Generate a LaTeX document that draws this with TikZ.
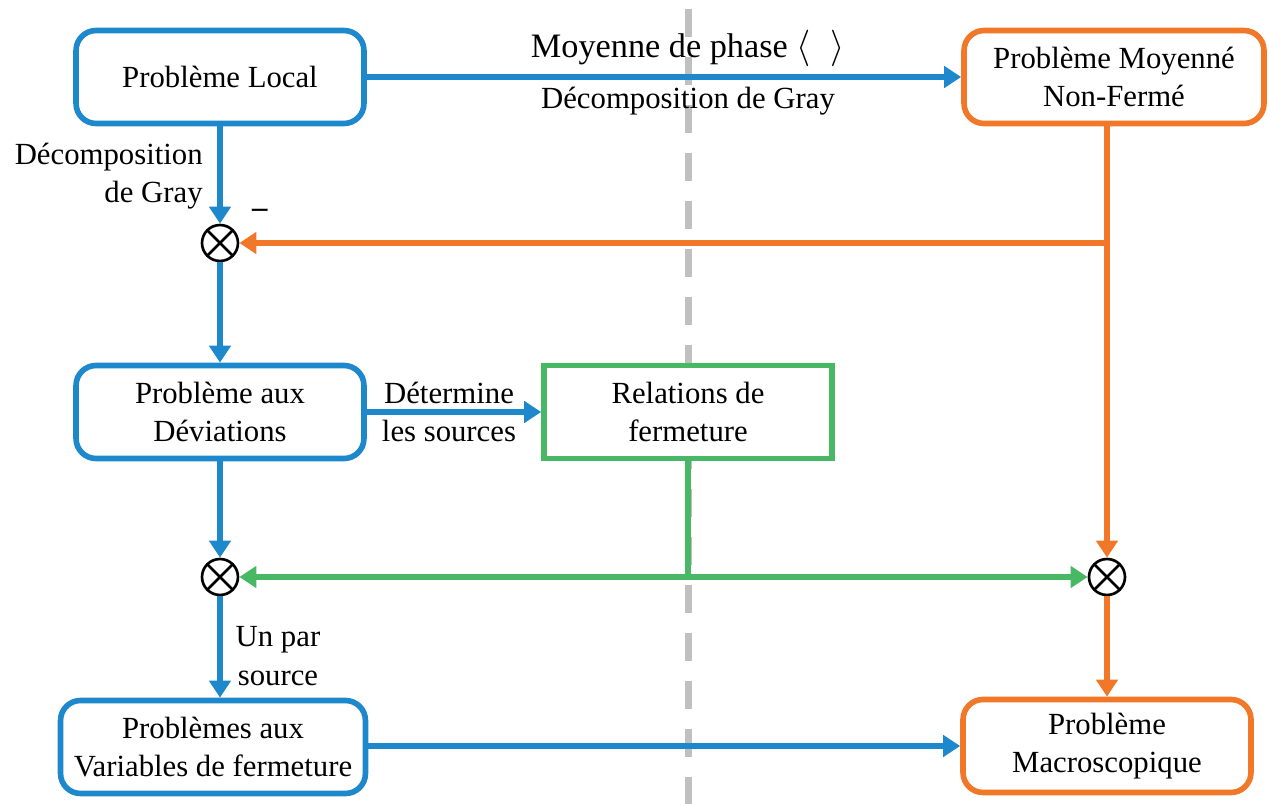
\documentclass[tikz,border=0pt]{standalone}
\usepackage{fontspec}
\setmainfont{Liberation Serif}
\usetikzlibrary{arrows.meta}
\definecolor{flowblue}{RGB}{30,136,204}
\definecolor{floworange}{RGB}{240,120,40}
\definecolor{flowgreen}{RGB}{72,184,100}
\definecolor{flowgray}{RGB}{192,192,192}
\tikzset{every node/.style={font=\fontsize{17.5pt}{22pt}\selectfont, align=center},
  bluebox/.style={draw=flowblue, line width=3.2pt, rounded corners=0.4cm, fill=white, minimum width=5.76cm, minimum height=1.86cm},
  orangebox/.style={bluebox, draw=floworange},
  greenbox/.style={bluebox, draw=flowgreen, sharp corners},
  mixer/.style={circle, draw=black, line width=1.5pt, minimum size=0.72cm, inner sep=0pt, fill=white,
    path picture={\draw[black, line width=1.5pt] (path picture bounding box.north west) -- (path picture bounding box.south east)
      (path picture bounding box.north east) -- (path picture bounding box.south west);}},
  flow/.style={line width=3.2pt, -{Triangle[length=0.34cm,width=0.42cm]}},
  plain/.style={line width=3.2pt},
  divider/.style={flowgray, line width=0.14cm, dash pattern=on 0.56cm off 0.4cm},
  lbl/.style={inner sep=0pt}}

\begin{document}
\begin{tikzpicture}[x=0.02cm, y=-0.02cm]
  \useasboundingbox (0,0) rectangle (1269,804);
  \coordinate (divtop) at (688,9);
  \coordinate (divbot) at (688,804);
  \draw[divider] (divtop) -- (divbot);

  \node[bluebox] (local) at (220,77) {Problème Local};
  \node[orangebox, minimum width=6.0cm] (moyen) at (1114,77) {Problème Moyenné\\Non-Fermé};
  \node[bluebox] (devia) at (220,412) {Problème aux\\Déviations};
  \node[greenbox] (relat) at (688,412) {Relations de\\fermeture};
  \node[bluebox, minimum width=6.1cm] (vari) at (213,747) {Problèmes aux\\Variables de fermeture};
  \node[orangebox] (macro) at (1107,746) {Problème\\Macroscopique};

  \node[mixer] (m1) at (220,243) {};
  \node[mixer] (m2) at (220,577) {};
  \node[mixer] (m3) at (1107,577) {};

  \node[lbl, font=\fontsize{19.5pt}{24pt}\selectfont] (avg) at (688,48) {Moyenne de phase $\langle\;\;\rangle$};
  \node[lbl] (gray1) at (688,101) {Décomposition de Gray};
  \node[lbl, anchor=east, align=right] (gray2) at (203,176) {Décomposition\\de Gray};
  \node[lbl] (sign) at (260,213) {\textbf{–}};
  \node[lbl] (det) at (449,412) {Détermine\\les sources};
  \node[lbl] (unpar) at (278,656) {Un par\\source};

  \draw[flow, flowblue] (local) -- (moyen);
  \draw[flow, flowblue] (local) -- (m1);
  \draw[flow, flowblue] (m1) -- (devia);
  \draw[flow, flowblue] (devia) -- (relat);
  \draw[flow, flowblue] (devia) -- (m2);
  \draw[flow, flowblue] (m2.south) -- (m2 |- vari.north);
  \draw[flow, flowblue] (vari.east |- macro.west) -- (macro.west);

  \coordinate (split) at (m3 |- m1);
  \draw[flow, floworange] (m3 |- moyen.south) -- (m3.north);
  \draw[flow, floworange] (split) -- (m1.east);
  \draw[flow, floworange] (m3.south) -- (m3 |- macro.north);

  \coordinate (join) at (relat.south |- m2);
  \draw[plain, flowgreen] (relat.south) -- (join);
  \draw[flow, flowgreen] (join) -- (m2.east);
  \draw[flow, flowgreen] (join) -- (m3.west);
\end{tikzpicture}
\end{document}
